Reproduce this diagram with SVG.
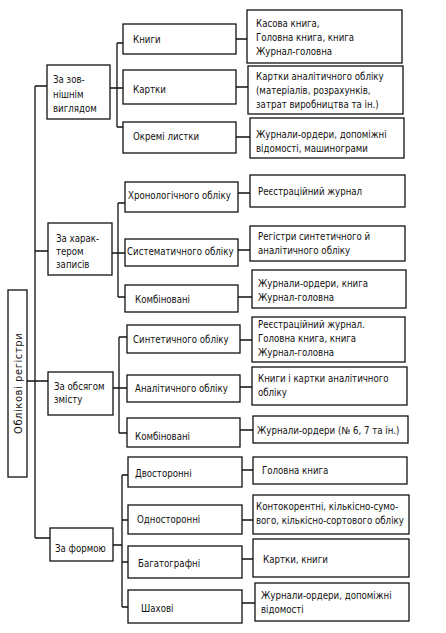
<svg xmlns="http://www.w3.org/2000/svg" width="446" height="633" viewBox="0 0 446 633">
<style>
rect{fill:#fff;stroke:#111;stroke-width:1.3}
.c path{fill:none;stroke:#111;stroke-width:1.3}
text{font-family:"DejaVu Sans Condensed","DejaVu Sans",sans-serif;font-size:9.6px;fill:#111}
</style>
<rect x="0" y="0" width="446" height="633" style="stroke:none"/>
<g class="c">
<path d="M35 86V538M27 381H48M35 86H47M35 251H48M35 538H50"/>
<path d="M110 88H117M117 43V127M117 43H123M117 88H123M117 127H123"/>
<path d="M112 253H118M118 203V297M118 203H125M118 253H125M118 297H125"/>
<path d="M113 388H119M119 337V433M119 337H127M119 388H127M119 433H127"/>
<path d="M113 545H122M122 475V607M122 475H128M122 520H128M122 562H128M122 607H128"/>
<path d="M236 39H247M236 87H248M236 137H250"/>
<path d="M238 193H250M238 250H250M238 297H252"/>
<path d="M240 340H252M240 387H252M240 430H253"/>
<path d="M242 470H253M242 520H253M242 559H253M242 603H255"/>
</g>
<g id="root"><rect x="8" y="290" width="19" height="187"/><text transform="translate(22 434) rotate(-90)" style="font-size:11px;letter-spacing:0.6px">Облікові регістри</text></g>
<g id="g1"><rect x="47" y="65" width="63" height="54"/><text x="53" y="83">За зов-</text><text x="53" y="98">нішнім</text><text x="53" y="112">виглядом</text></g>
<g id="g2"><rect x="48" y="223" width="64" height="52"/><text x="56" y="242">За харак-</text><text x="56" y="255">тером</text><text x="56" y="268">записів</text></g>
<g id="g3"><rect x="48" y="372" width="65" height="43"/><text x="54" y="390">За обсягом</text><text x="54" y="403">змісту</text></g>
<g id="g4"><rect x="50" y="528" width="63" height="33"/><text x="55" y="552">За формою</text></g>

<g id="n11"><rect x="123" y="24" width="113" height="30"/><text x="133" y="43">Книги</text></g>
<g id="n12"><rect x="123" y="70" width="113" height="34"/><text x="133" y="93">Картки</text></g>
<g id="n13"><rect x="123" y="122" width="113" height="31"/><text x="133" y="140">Окремі листки</text></g>
<g id="n21"><rect x="125" y="182" width="113" height="30"/><text x="128" y="199">Хронологічного обліку</text></g>
<g id="n22"><rect x="125" y="239" width="113" height="27"/><text x="127" y="255">Систематичного обліку</text></g>
<g id="n23"><rect x="125" y="285" width="113" height="27"/><text x="135" y="303">Комбіновані</text></g>
<g id="n31"><rect x="127" y="325" width="113" height="28"/><text x="133" y="343">Синтетичного обліку</text></g>
<g id="n32"><rect x="127" y="375" width="113" height="27"/><text x="135" y="392">Аналітичного обліку</text></g>
<g id="n33"><rect x="127" y="418" width="113" height="29"/><text x="135" y="440">Комбіновані</text></g>
<g id="n41"><rect x="128" y="457" width="114" height="30"/><text x="135" y="477">Двосторонні</text></g>
<g id="n42"><rect x="128" y="505" width="114" height="29"/><text x="137" y="523">Односторонні</text></g>
<g id="n43"><rect x="128" y="546" width="114" height="32"/><text x="138" y="567">Багатографні</text></g>
<g id="n44"><rect x="128" y="590" width="114" height="33"/><text x="141" y="612">Шахові</text></g>

<g id="d11"><rect x="247" y="10" width="155" height="53"/><text x="256" y="27">Касова книга,</text><text x="256" y="41">Головна книга, книга</text><text x="256" y="55">Журнал-головна</text></g>
<g id="d12"><rect x="248" y="66" width="155" height="48"/><text x="256" y="80">Картки аналітичного обліку</text><text x="256" y="94">(матеріалів, розрахунків,</text><text x="256" y="108">затрат виробництва та ін.)</text></g>
<g id="d13"><rect x="250" y="118" width="154" height="40"/><text x="256" y="138">Журнали-ордери, допоміжні</text><text x="256" y="152">відомості, машинограми</text></g>
<g id="d21"><rect x="250" y="175" width="155" height="32"/><text x="258" y="195">Реєстраційний журнал</text></g>
<g id="d22"><rect x="250" y="226" width="155" height="35"/><text x="258" y="240">Регістри синтетичного й</text><text x="258" y="254">аналітичного обліку</text></g>
<g id="d23"><rect x="252" y="270" width="154" height="38"/><text x="258" y="287">Журнали-ордери, книга</text><text x="258" y="301">Журнал-головна</text></g>
<g id="d31"><rect x="252" y="317" width="153" height="45"/><text x="258" y="328">Реєстраційний журнал.</text><text x="258" y="342">Головна книга, книга</text><text x="258" y="356">Журнал-головна</text></g>
<g id="d32"><rect x="252" y="367" width="155" height="38"/><text x="258" y="382">Книги і картки аналітичного</text><text x="258" y="396">обліку</text></g>
<g id="d33"><rect x="253" y="416" width="155" height="27"/><text x="257" y="434">Журнали-ордери (№ 6, 7 та ін.)</text></g>
<g id="d41"><rect x="253" y="457" width="154" height="27"/><text x="262" y="474">Головна книга</text></g>
<g id="d42"><rect x="253" y="495" width="156" height="39"/><text x="256" y="510">Контокорентні, кількісно-сумо-</text><text x="256" y="524">вого, кількісно-сортового обліку</text></g>
<g id="d43"><rect x="253" y="539" width="156" height="38"/><text x="263" y="563">Картки, книги</text></g>
<g id="d44"><rect x="255" y="583" width="154" height="38"/><text x="261" y="599">Журнали-ордери, допоміжні</text><text x="261" y="613">відомості</text></g>
</svg>
